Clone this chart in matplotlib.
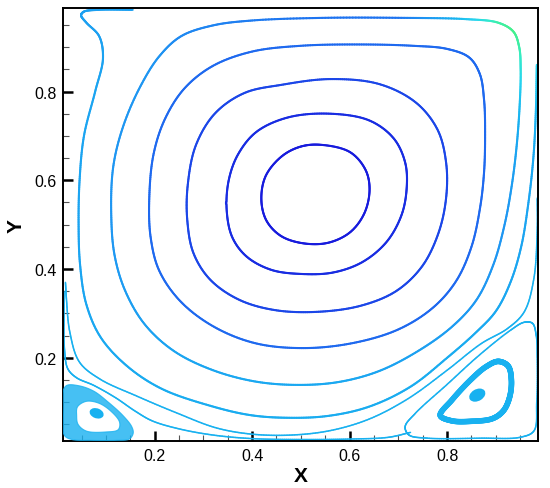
#!/usr/bin/env python3
# cavity_streamlines.py - streamline traces of the driven cavity

import numpy as np
import matplotlib
matplotlib.use("Agg")
import matplotlib.pyplot as plt
from matplotlib.collections import LineCollection
from matplotlib.colors import LinearSegmentedColormap
from matplotlib.patches import Ellipse, PathPatch
from matplotlib.path import Path

plt.rcParams['font.family'] = ['Liberation Sans', 'DejaVu Sans']

# --- axis setup ---
x_lim = (0.0125, 0.9875)
y_lim = (0.0125, 0.9875)
major_ticks = [0.2, 0.4, 0.6, 0.8]
minor_ticks = [0.05, 0.1, 0.15, 0.25, 0.3, 0.35, 0.45, 0.5, 0.55, 0.65, 0.7, 0.75, 0.85, 0.9, 0.95]

# colour levels (0 = low, 1 = high) -> colours
level_stops = [0.0, 0.2, 0.4, 0.55, 0.68, 0.8, 0.9, 1.0]
level_colors = ['#1616dc', '#1a3ce6', '#1e6ef0', '#1e96f2', '#18b0f0', '#26d4f0', '#34ecc8', '#44f08c']

# --- primary vortex, closed traces (inner -> outer) ---
c1_x = [0.540, 0.600, 0.632, 0.641, 0.630, 0.600, 0.555, 0.505, 0.460, 0.430, 0.419, 0.428, 0.462, 0.500]
c1_y = [0.680, 0.664, 0.625, 0.580, 0.525, 0.482, 0.459, 0.458, 0.474, 0.508, 0.555, 0.610, 0.655, 0.676]
c1_c = 0.03

c2_x = [0.560, 0.640, 0.690, 0.714, 0.717, 0.706, 0.675, 0.625, 0.565, 0.500, 0.440, 0.390, 0.360, 0.348,
        0.352, 0.372, 0.410, 0.475]
c2_y = [0.750, 0.735, 0.695, 0.640, 0.580, 0.520, 0.460, 0.415, 0.392, 0.389, 0.398, 0.427, 0.470, 0.530,
        0.600, 0.660, 0.710, 0.742]
c2_c = 0.12

c3_x = [0.460, 0.560, 0.660, 0.735, 0.780, 0.798, 0.798, 0.782, 0.748, 0.695, 0.625, 0.540, 0.450, 0.375,
        0.315, 0.280, 0.267, 0.268, 0.285, 0.325, 0.385]
c3_y = [0.815, 0.828, 0.817, 0.776, 0.715, 0.640, 0.560, 0.480, 0.405, 0.350, 0.318, 0.304, 0.307, 0.330,
        0.375, 0.435, 0.510, 0.590, 0.680, 0.752, 0.797]
c3_c = 0.24

c4_x = [0.500, 0.620, 0.730, 0.800, 0.845, 0.867, 0.876, 0.878, 0.876, 0.868, 0.850, 0.818, 0.770, 0.700,
        0.610, 0.510, 0.410, 0.325, 0.255, 0.210, 0.192, 0.189, 0.198, 0.222, 0.262, 0.320, 0.400]
c4_y = [0.903, 0.906, 0.903, 0.896, 0.877, 0.840, 0.780, 0.700, 0.620, 0.540, 0.450, 0.372, 0.312, 0.264,
        0.234, 0.222, 0.232, 0.268, 0.325, 0.395, 0.470, 0.560, 0.660, 0.740, 0.808, 0.858, 0.890]
c4_c = 0.38

c5_x = [0.400, 0.550, 0.700, 0.840, 0.905, 0.936, 0.948, 0.951, 0.949, 0.943, 0.933, 0.918, 0.895, 0.860,
        0.810, 0.740, 0.660, 0.580, 0.500, 0.410, 0.320, 0.240, 0.180, 0.140, 0.118, 0.111, 0.115, 0.135,
        0.170, 0.210, 0.255, 0.320]
c5_y = [0.960, 0.966, 0.966, 0.963, 0.955, 0.935, 0.900, 0.850, 0.770, 0.680, 0.590, 0.500, 0.410, 0.330,
        0.270, 0.215, 0.170, 0.146, 0.139, 0.146, 0.172, 0.215, 0.275, 0.350, 0.430, 0.520, 0.630, 0.720,
        0.810, 0.880, 0.925, 0.949]
c5_c = [0.45, 0.42, 0.42, 0.75, 0.95, 1.00, 0.95, 0.85, 0.72, 0.63, 0.58, 0.55, 0.55, 0.56, 0.58, 0.60,
        0.62, 0.64, 0.64, 0.64, 0.63, 0.62, 0.60, 0.58, 0.56, 0.55, 0.55, 0.55, 0.55, 0.54, 0.50, 0.48]

# --- open traces ---
c6_x = [0.984, 0.982, 0.977, 0.967, 0.952, 0.930, 0.900, 0.860, 0.800, 0.725, 0.640, 0.555, 0.470, 0.396,
        0.314, 0.215, 0.145, 0.090, 0.060, 0.047, 0.044, 0.046, 0.055, 0.078, 0.094, 0.086, 0.060, 0.049,
        0.055, 0.085, 0.155]
c6_y = [0.860, 0.750, 0.650, 0.550, 0.450, 0.370, 0.305, 0.258, 0.200, 0.135, 0.090, 0.069, 0.065, 0.071,
        0.092, 0.130, 0.180, 0.245, 0.320, 0.410, 0.500, 0.600, 0.700, 0.800, 0.875, 0.925, 0.955, 0.972,
        0.980, 0.984, 0.984]
c6_c = [0.80, 0.70, 0.64, 0.62, 0.62, 0.63, 0.64, 0.65, 0.66, 0.66, 0.66, 0.66, 0.66, 0.66, 0.66, 0.66,
        0.65, 0.64, 0.63, 0.62, 0.62, 0.62, 0.62, 0.62, 0.61, 0.60, 0.60, 0.60, 0.60, 0.60, 0.60]

r1_x = [0.985, 0.985, 0.978, 0.958, 0.924, 0.870, 0.800, 0.720, 0.640, 0.560, 0.480, 0.400, 0.327, 0.245,
        0.163, 0.088, 0.046, 0.026, 0.019, 0.017]
r1_y = [0.560, 0.490, 0.378, 0.303, 0.266, 0.232, 0.172, 0.108, 0.062, 0.036, 0.026, 0.028, 0.042, 0.076,
        0.114, 0.152, 0.190, 0.258, 0.333, 0.370]
r1_c = 0.68

c7_x = [0.725, 0.680, 0.600, 0.500, 0.400, 0.320, 0.250, 0.195, 0.160, 0.120, 0.075, 0.040, 0.022, 0.015,
        0.014, 0.014]
c7_y = [0.032, 0.021, 0.017, 0.016, 0.018, 0.026, 0.040, 0.058, 0.080, 0.110, 0.138, 0.155, 0.175, 0.220,
        0.290, 0.350]
c7_c = 0.68

# --- bottom-right secondary vortex ---
br_loop_x = [0.714, 0.735, 0.800, 0.865, 0.930, 0.958, 0.975, 0.983, 0.985, 0.984, 0.978, 0.950, 0.870,
             0.760, 0.722]
br_loop_y = [0.045, 0.075, 0.140, 0.205, 0.262, 0.280, 0.278, 0.250, 0.200, 0.100, 0.035, 0.021, 0.019,
             0.019, 0.026]
br_ring_x = [0.786, 0.810, 0.848, 0.880, 0.905, 0.925, 0.932, 0.928, 0.915, 0.893, 0.850, 0.810]
br_ring_y = [0.070, 0.105, 0.150, 0.180, 0.192, 0.182, 0.150, 0.110, 0.080, 0.063, 0.057, 0.058]
br_core = (0.862, 0.116, 0.036, 0.026, 35)   # centre x, centre y, width, height, angle
br_c = 0.68

# --- bottom-left secondary vortex (dense spiral band) ---
bl_outer_x = [0.012, 0.020, 0.045, 0.075, 0.105, 0.135, 0.153, 0.156, 0.148, 0.120, 0.070, 0.030, 0.015, 0.012]
bl_outer_y = [0.125, 0.138, 0.137, 0.125, 0.100, 0.070, 0.045, 0.030, 0.017, 0.014, 0.014, 0.016, 0.025, 0.070]
bl_inner_x = [0.042, 0.060, 0.085, 0.110, 0.128, 0.125, 0.100, 0.060, 0.043, 0.040]
bl_inner_y = [0.090, 0.102, 0.098, 0.080, 0.055, 0.038, 0.033, 0.035, 0.050, 0.070]
bl_core = (0.081, 0.075, 0.030, 0.022, -25)
bl_c = 0.68


def catmull(xs, ys, cs, closed, n=24):
    """centripetal Catmull-Rom through the traced points (drawing only)"""
    P = np.column_stack([xs, ys]).astype(float)
    C = np.broadcast_to(np.asarray(cs, dtype=float), (len(P),)).copy()
    if closed:
        P = np.vstack([P[-1], P, P[0], P[1]])
        C = np.concatenate([[C[-1]], C, [C[0], C[1]]])
    else:
        P = np.vstack([2 * P[0] - P[1], P, 2 * P[-1] - P[-2]])
        C = np.concatenate([[C[0]], C, [C[-1]]])
    out, cout = [], []
    for i in range(1, len(P) - 2):
        p0, p1, p2, p3 = P[i - 1], P[i], P[i + 1], P[i + 2]
        t0 = 0.0
        t1 = t0 + max(np.linalg.norm(p1 - p0), 1e-9) ** 0.5
        t2 = t1 + max(np.linalg.norm(p2 - p1), 1e-9) ** 0.5
        t3 = t2 + max(np.linalg.norm(p3 - p2), 1e-9) ** 0.5
        t = np.linspace(t1, t2, n, endpoint=False)[:, None]
        a1 = (t1 - t) / (t1 - t0) * p0 + (t - t0) / (t1 - t0) * p1
        a2 = (t2 - t) / (t2 - t1) * p1 + (t - t1) / (t2 - t1) * p2
        a3 = (t3 - t) / (t3 - t2) * p2 + (t - t2) / (t3 - t2) * p3
        b1 = (t2 - t) / (t2 - t0) * a1 + (t - t0) / (t2 - t0) * a2
        b2 = (t3 - t) / (t3 - t1) * a2 + (t - t1) / (t3 - t1) * a3
        out.append((t2 - t) / (t2 - t1) * b1 + (t - t1) / (t2 - t1) * b2)
        s = np.linspace(0, 1, n, endpoint=False)
        cout.append(C[i] + (C[i + 1] - C[i]) * s)
    out.append(P[-2][None, :])
    cout.append([C[-2]])
    return np.vstack(out), np.concatenate(cout)


def trace(ax, xs, ys, cs, closed, lw, cmap):
    pts, cv = catmull(xs, ys, cs, closed)
    segs = np.stack([pts[:-1], pts[1:]], axis=1)
    cols = cmap(0.5 * (cv[:-1] + cv[1:]))
    lc = LineCollection(segs, colors=cols, linewidths=lw, capstyle='round', joinstyle='round', zorder=2)
    ax.add_collection(lc)


def main():
    cmap = LinearSegmentedColormap.from_list('press', list(zip(level_stops, level_colors)))

    fig = plt.figure(figsize=(5.5, 4.89), dpi=100)
    ax = fig.add_axes([0.115, 0.096, 0.864, 0.885])

    lw_main = 1.5
    lw_thin = 1.1
    for xs, ys, cs in [(c1_x, c1_y, c1_c), (c2_x, c2_y, c2_c), (c3_x, c3_y, c3_c),
                       (c4_x, c4_y, c4_c), (c5_x, c5_y, c5_c)]:
        trace(ax, xs, ys, cs, True, lw_main, cmap)
    trace(ax, c6_x, c6_y, c6_c, False, lw_main, cmap)
    trace(ax, r1_x, r1_y, r1_c, False, lw_thin, cmap)
    trace(ax, c7_x, c7_y, c7_c, False, lw_thin, cmap)

    # bottom-right eddy
    trace(ax, br_loop_x, br_loop_y, br_c, True, lw_thin, cmap)
    trace(ax, br_ring_x, br_ring_y, br_c, True, 4.0, cmap)
    ax.add_patch(Ellipse(br_core[:2], br_core[2], br_core[3], angle=br_core[4],
                         facecolor=cmap(br_c), edgecolor='none', zorder=3))

    # bottom-left eddy: spiral band drawn as a ring
    outer, _ = catmull(bl_outer_x, bl_outer_y, bl_c, True)
    inner, _ = catmull(bl_inner_x, bl_inner_y, bl_c, True)
    verts = np.vstack([outer, inner[::-1]])
    codes = ([Path.MOVETO] + [Path.LINETO] * (len(outer) - 1) +
             [Path.MOVETO] + [Path.LINETO] * (len(inner) - 1))
    ax.add_patch(PathPatch(Path(verts, codes), facecolor=cmap(bl_c), edgecolor=cmap(bl_c),
                           lw=0.8, alpha=0.8, zorder=3))
    ax.add_patch(Ellipse(bl_core[:2], bl_core[2], bl_core[3], angle=bl_core[4],
                         facecolor=cmap(bl_c), edgecolor='none', zorder=3))

    ax.set_xlim(*x_lim)
    ax.set_ylim(*y_lim)
    ax.set_xticks(major_ticks)
    ax.set_yticks(major_ticks)
    ax.set_xticks(minor_ticks, minor=True)
    ax.set_yticks(minor_ticks, minor=True)
    ax.set_xticklabels([f"{v:.1f}" for v in major_ticks])
    ax.set_yticklabels([f"{v:.1f}" for v in major_ticks])
    ax.tick_params(which='major', direction='in', length=7, width=1.8, labelsize=11.5, pad=5,
                   top=False, right=False)
    ax.tick_params(which='minor', direction='in', length=4.5, width=0.8, color='#555555',
                   top=False, right=False)
    for sp in ax.spines.values():
        sp.set_linewidth(1.4)
    ax.set_xlabel("X", fontsize=15, fontweight='bold', labelpad=2)
    ax.set_ylabel("Y", fontsize=15, fontweight='bold', labelpad=6)

    plt.savefig("out.png", dpi=100)


if __name__ == "__main__":
    main()
